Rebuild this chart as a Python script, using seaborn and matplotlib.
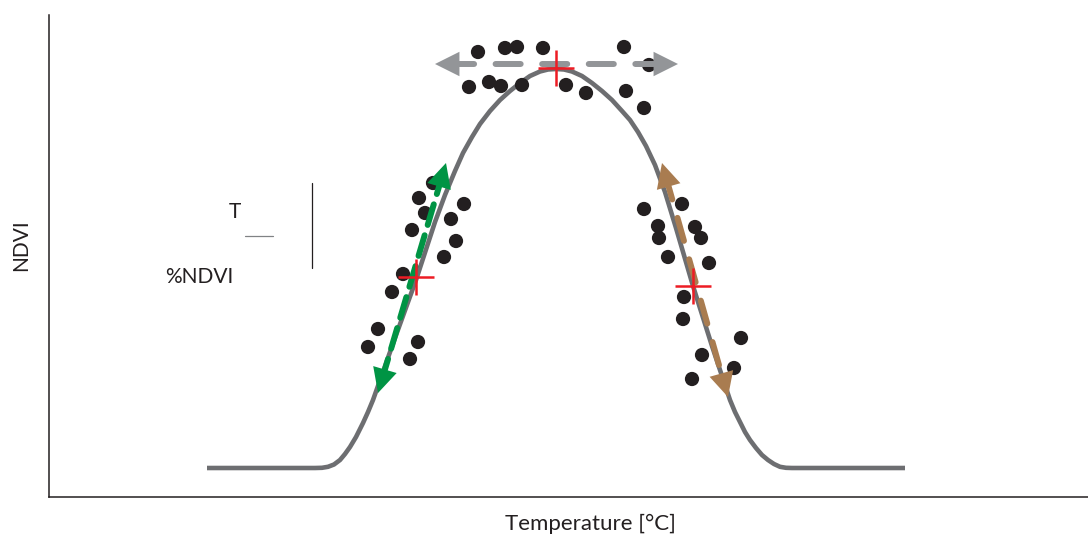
import numpy as np
import pandas as pd
import matplotlib
matplotlib.use("Agg")
import matplotlib.pyplot as plt
import seaborn as sns

# Response curve of NDVI against temperature (y grows downwards)
curve_x = [207, 315, 322, 328, 334, 340, 345, 350, 356, 363, 368, 373, 395, 416,
           435, 445, 455, 463, 472, 480, 490, 500, 510, 520, 530, 540, 548, 556,
           564, 572, 582, 592, 602, 612, 622, 630, 638, 646, 655, 665, 676, 693,
           712, 730, 735, 740, 745, 750, 756, 762, 768, 774, 780, 786, 792, 905]
curve_y = [468, 468, 467.8, 466.8, 464.5, 460, 454, 447, 437, 423, 412, 400, 338, 280,
           222, 195, 171, 153, 137, 124, 111, 100, 91, 83, 76, 71.5, 69.5, 69,
           69.5, 71.5, 76, 83, 91, 100, 111, 120, 132, 146, 165, 192, 228, 286,
           346, 400, 412, 422, 432, 440, 448, 455, 460, 464, 466.8, 467.8, 468, 468]

# Observations
dots_x = [478, 505, 517, 543, 624, 469, 489, 501, 522, 566, 586, 626, 644, 649,
          433, 419, 464, 425, 451, 412, 456, 444, 403, 392, 378, 368, 418, 410,
          644, 682, 658, 695, 659, 701, 668, 709, 684, 683, 741, 702, 734, 692]
dots_y = [52, 48, 47, 48, 47, 87, 82, 86, 85, 85, 93, 91, 108, 65,
          183, 198, 204, 213, 219, 230, 241, 257, 274, 292, 329, 347, 342, 359,
          209, 204, 226, 227, 238, 238, 257, 263, 297, 319, 338, 355, 368, 379]

# Sampling points (red crosses)
cross_x = [416, 556, 693]
cross_y = [277, 68, 286]

# Direction arrows: (start tip, end tip, colour, dash pattern)
arrows = [
    ((378, 393), (446, 163), "#009444", (3.6, 1.8)),
    ((662, 163), (728, 397), "#a97c50", (4.0, 3.2)),
    ((435, 64), (678, 64), "#939598", (4.2, 3.6)),
]

sns.set_style("white")
plt.rcParams["font.family"] = ["Lato", "DejaVu Sans"]

fig = plt.figure(figsize=(10.88, 5.40), dpi=100)
ax = fig.add_axes([49 / 1088, 43 / 540, 1039 / 1088, 482 / 540])

df_curve = pd.DataFrame({"x": curve_x, "y": curve_y})
sns.lineplot(data=df_curve, x="x", y="y", ax=ax, color="#6d6e71", lw=3.3,
             sort=False, zorder=2, solid_capstyle="butt", solid_joinstyle="round")

df_dots = pd.DataFrame({"x": dots_x, "y": dots_y})
sns.scatterplot(data=df_dots, x="x", y="y", ax=ax, color="#231f20", s=105,
                edgecolor="none", zorder=3)

for (x0, y0), (x1, y1), col, dash in arrows:
    # shorten the dashed shaft so the heads sit at the tips
    v = np.array([x1 - x0, y1 - y0], dtype=float)
    u = v / np.hypot(*v)
    a = np.array([x0, y0]) + u * 14
    b = np.array([x1, y1]) - u * 14
    ax.plot([a[0], b[0]], [a[1], b[1]], color=col, lw=4.3, dashes=dash,
            dash_capstyle="round", zorder=4)
    for tip, back in (((x1, y1), b), ((x0, y0), a)):
        ax.annotate("", xy=tip, xytext=back,
                    arrowprops=dict(arrowstyle="-|>,head_length=1.1,head_width=0.55",
                                    color=col, lw=0, mutation_scale=16,
                                    shrinkA=0, shrinkB=0),
                    zorder=4)

ax.plot(cross_x, cross_y, ls="none", marker="+", ms=26, mew=1.8,
        color="#ed1c24", zorder=5)

# leftover fraction label
ax.text(235, 218, "T", fontsize=15, ha="center", va="baseline", color="#231f20")
ax.plot([245, 273], [236, 236], color="#808285", lw=0.9)
ax.text(165, 283, "%NDVI", fontsize=15, ha="left", va="baseline", color="#231f20")
ax.plot([312, 312], [183, 268], color="#231f20", lw=0.9)

ax.set_xlim(49, 1088)
ax.set_ylim(497, 15)
ax.set_xticks([])
ax.set_yticks([])
sns.despine(ax=ax)
for side in ("left", "bottom"):
    ax.spines[side].set_color("#231f20")
    ax.spines[side].set_linewidth(1.1)
ax.set_xlabel("Temperature [°C]", fontsize=16, color="#231f20")
ax.set_ylabel("NDVI", fontsize=15, color="#231f20")
ax.xaxis.set_label_coords(0.521, -0.035, transform=ax.transAxes)
ax.yaxis.set_label_coords(-0.0175, 0.523, transform=ax.transAxes)
ax.xaxis.label.set_va("top")
ax.yaxis.label.set_va("bottom")

fig.savefig("out.png", dpi=100)
